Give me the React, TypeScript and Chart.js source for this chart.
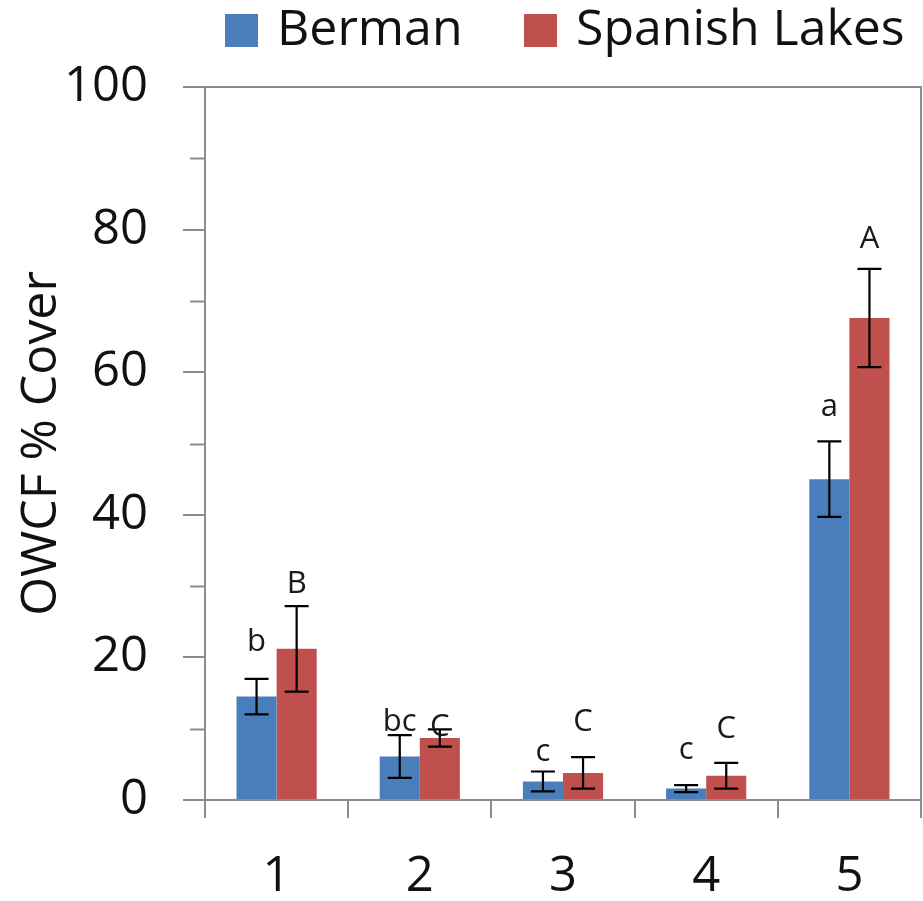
import React, { useEffect, useRef } from "react";
import { Chart, registerables } from "chart.js";

Chart.register(...registerables);

const categories = ["1", "2", "3", "4", "5"];
const seriesNames = ["Berman", "Spanish Lakes"];
const bermanValues = [14.5, 6.1, 2.6, 1.6, 45.0];
const bermanErrors = [2.5, 3.0, 1.4, 0.5, 5.3];
const spanishValues = [21.2, 8.7, 3.8, 3.4, 67.6];
const spanishErrors = [6.0, 1.2, 2.2, 1.8, 6.9];
const bermanLetters = ["b", "bc", "c", "c", "a"];
const bermanLetterY = [20.9, 9.7, 5.5, 5.75, 53.9];
const spanishLetters = ["B", "C", "C", "C", "A"];
const spanishLetterY = [29.0, 9.0, 9.7, 8.7, 77.4];
const yTicks = [0, 20, 40, 60, 80, 100];
const yMinorTicks = [10, 30, 50, 70, 90];

const FONT = "'Open Sans', 'DejaVu Sans', sans-serif";
const BLUE = "#4a7ebb";
const RED = "#c0504d";
const AXIS = "#8c8c8c";

const errors = [bermanErrors, spanishErrors];
const letters = [bermanLetters, spanishLetters];
const letterY = [bermanLetterY, spanishLetterY];
const legendBoxX = [225, 524];

const decorPlugin = {
  id: "decor",
  afterDatasetsDraw(chart: any) {
    const ctx = chart.ctx;
    const y = chart.scales.y;
    const area = chart.chartArea;
    ctx.save();
    // top and right frame
    ctx.strokeStyle = AXIS;
    ctx.lineWidth = 2;
    ctx.beginPath();
    ctx.moveTo(area.left, area.top);
    ctx.lineTo(area.right, area.top);
    ctx.lineTo(area.right, area.bottom);
    ctx.stroke();
    // minor ticks
    yMinorTicks.forEach((v) => {
      const py = Math.round(y.getPixelForValue(v)) + 0.5;
      ctx.beginPath();
      ctx.moveTo(area.left - 15, py);
      ctx.lineTo(area.left, py);
      ctx.stroke();
    });
    // error bars and letters
    chart.data.datasets.forEach((ds: any, di: number) => {
      const meta = chart.getDatasetMeta(di);
      meta.data.forEach((bar: any, i: number) => {
        const v = ds.data[i];
        const e = errors[di][i];
        const top = y.getPixelForValue(v + e);
        const bot = y.getPixelForValue(v - e);
        const x = bar.x;
        ctx.strokeStyle = "#000";
        ctx.lineWidth = 2.2;
        ctx.beginPath();
        ctx.moveTo(x, top);
        ctx.lineTo(x, bot);
        ctx.moveTo(x - 12, top);
        ctx.lineTo(x + 12, top);
        ctx.moveTo(x - 12, bot);
        ctx.lineTo(x + 12, bot);
        ctx.stroke();
        ctx.fillStyle = "#1a1a1a";
        ctx.font = `31px ${FONT}`;
        ctx.textAlign = "center";
        ctx.textBaseline = "alphabetic";
        ctx.fillText(letters[di][i], x, y.getPixelForValue(letterY[di][i]));
      });
    });
    // legend
    ctx.font = `50px ${FONT}`;
    ctx.textAlign = "left";
    ctx.textBaseline = "middle";
    chart.data.datasets.forEach((ds: any, di: number) => {
      const bx = legendBoxX[di];
      ctx.fillStyle = ds.backgroundColor;
      ctx.fillRect(bx, 14, 33, 33);
      ctx.fillStyle = "#111";
      ctx.fillText(ds.label, bx + 52, 31);
    });
    ctx.restore();
  },
};

export default function App() {
  const ref = useRef<HTMLCanvasElement>(null);
  useEffect(() => {
    const chart = new Chart(ref.current!, {
      type: "bar",
      data: {
        labels: categories,
        datasets: [
          { label: seriesNames[0], data: bermanValues, backgroundColor: BLUE },
          { label: seriesNames[1], data: spanishValues, backgroundColor: RED },
        ],
      },
      options: {
        responsive: false,
        animation: false,
        layout: { padding: { left: 0, right: 2, top: 87, bottom: 0 } },
        datasets: { bar: { categoryPercentage: 0.56, barPercentage: 1 } },
        plugins: {
          legend: { display: false },
          tooltip: { enabled: false },
        },
        scales: {
          x: {
            offset: true,
            afterFit: (s: any) => {
              s.height = 101;
            },
            grid: { display: true, offset: true, drawOnChartArea: false, drawTicks: true, tickLength: 18, color: AXIS, lineWidth: 2 },
            border: { display: true, color: AXIS, width: 2 },
            ticks: { color: "#111", font: { family: FONT, size: 49 }, padding: 30 },
          },
          y: {
            min: 0,
            max: 100,
            afterBuildTicks: (s: any) => {
              s.ticks = yTicks.map((v) => ({ value: v }));
            },
            afterFit: (s: any) => {
              s.width = 205;
            },
            grid: { display: true, drawOnChartArea: false, drawTicks: true, tickLength: 22, color: AXIS, lineWidth: 2 },
            border: { display: true, color: AXIS, width: 2 },
            ticks: { color: "#111", font: { family: FONT, size: 49 }, padding: 35 },
            title: {
              display: true,
              text: "OWCF % Cover",
              color: "#111",
              font: { family: FONT, size: 50 },
              padding: { top: 12, bottom: 0 },
            },
          },
        },
      },
      plugins: [decorPlugin],
    });
    return () => chart.destroy();
  }, []);
  return (
    <div style={{ position: "fixed", left: 0, top: 0, width: 923, height: 901, background: "#fff" }}>
      <canvas ref={ref} width={923} height={901} style={{ display: "block" }} />
    </div>
  );
}
